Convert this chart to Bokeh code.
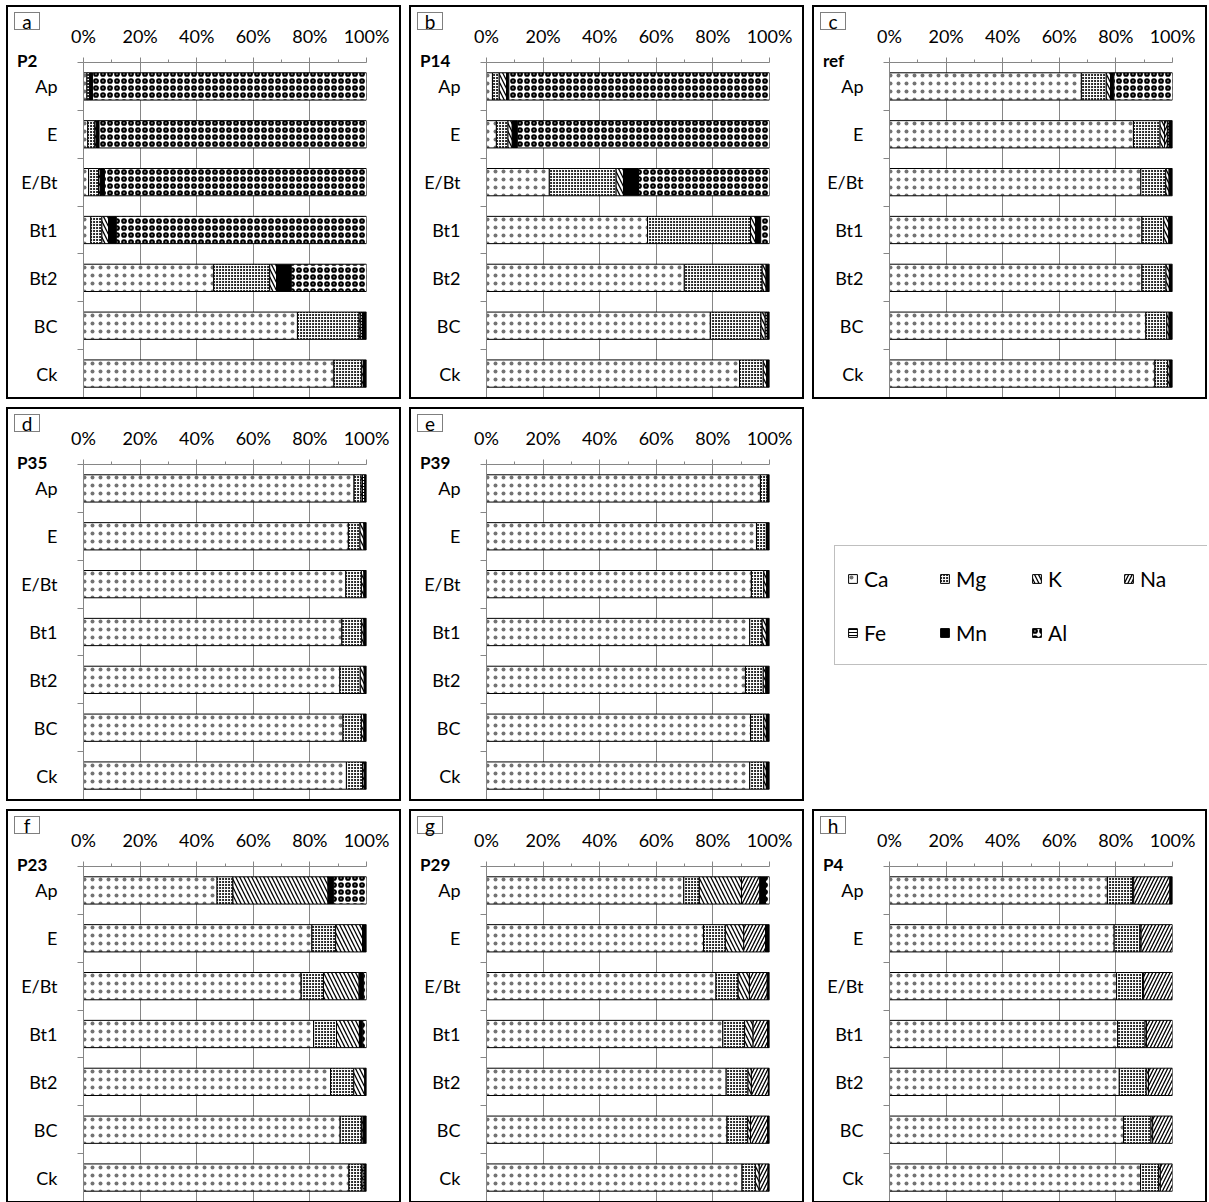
import numpy as np
from bokeh.plotting import figure
from bokeh.models import (Range1d, FixedTicker, Legend, LegendItem,
                          ColumnDataSource, GridBox, Div)
from bokeh.layouts import row, column
from bokeh.embed import file_html
from bokeh.resources import INLINE

# ---------------------------------------------------------------- data
HORIZONS = ["Ap", "E", "E/Bt", "Bt1", "Bt2", "BC", "Ck"]
ELEMENTS = ["Ca", "Mg", "K", "Na", "Fe", "Mn", "Al"]
PCT_TICKS = [0, 20, 40, 60, 80, 100]
PCT_LABELS = ["0%", "20%", "40%", "60%", "80%", "100%"]

# share of each exchangeable cation (%), listed Ap ... Ck
P2 = dict(
    Ca=[1.2, 1.5, 1.8, 2.6, 46.0, 75.6, 88.5],
    Mg=[1.0, 2.5, 3.5, 3.9, 19.8, 21.8, 9.8],
    K=[0.0, 0.5, 0.6, 2.4, 2.4, 0.6, 0.6],
    Na=[0.0, 0.0, 0.0, 0.0, 0.0, 0.0, 0.0],
    Fe=[0.0, 0.0, 0.0, 0.0, 0.0, 0.6, 0.0],
    Mn=[1.0, 1.0, 1.5, 2.7, 5.2, 1.4, 1.1],
    Al=[96.8, 94.5, 92.6, 88.4, 26.6, 0.0, 0.0],
)
P14 = dict(
    Ca=[2.1, 3.5, 22.2, 56.9, 69.9, 79.1, 89.4],
    Mg=[2.4, 4.1, 23.6, 36.4, 27.5, 17.9, 8.4],
    K=[2.6, 1.5, 2.6, 1.8, 1.4, 1.5, 1.2],
    Na=[0.0, 0.0, 0.0, 0.0, 0.0, 0.0, 0.0],
    Fe=[0.0, 0.0, 0.0, 0.0, 0.0, 0.7, 0.0],
    Mn=[0.8, 1.8, 5.3, 1.8, 1.2, 0.8, 1.0],
    Al=[92.1, 89.1, 46.3, 3.1, 0.0, 0.0, 0.0],
)
REF = dict(
    Ca=[67.8, 86.2, 88.8, 89.2, 89.2, 90.6, 93.8],
    Mg=[8.8, 9.4, 8.8, 7.7, 8.5, 7.4, 4.5],
    K=[1.5, 1.6, 1.2, 1.8, 1.2, 0.8, 0.8],
    Na=[0.0, 1.0, 0.0, 0.0, 0.0, 0.0, 0.0],
    Fe=[0.0, 0.6, 0.0, 0.0, 0.0, 0.0, 0.0],
    Mn=[1.2, 1.2, 1.2, 1.3, 1.1, 1.2, 0.9],
    Al=[20.7, 0.0, 0.0, 0.0, 0.0, 0.0, 0.0],
)
P35 = dict(
    Ca=[95.6, 93.6, 92.7, 91.3, 90.6, 91.7, 92.9],
    Mg=[2.5, 4.1, 5.5, 7.0, 7.2, 6.5, 5.7],
    K=[0.5, 1.4, 0.9, 0.8, 1.4, 0.9, 0.6],
    Na=[0.0, 0.0, 0.0, 0.0, 0.0, 0.0, 0.0],
    Fe=[0.8, 0.0, 0.0, 0.0, 0.0, 0.0, 0.0],
    Mn=[0.6, 0.9, 0.9, 0.9, 0.8, 0.9, 0.8],
    Al=[0.0, 0.0, 0.0, 0.0, 0.0, 0.0, 0.0],
)
P39 = dict(
    Ca=[96.8, 95.4, 93.6, 93.0, 91.5, 93.3, 93.0],
    Mg=[2.4, 3.5, 4.4, 4.4, 6.3, 4.7, 5.0],
    K=[0.0, 0.0, 1.0, 1.5, 0.9, 0.9, 0.9],
    Na=[0.0, 0.0, 0.0, 0.0, 0.0, 0.0, 0.0],
    Fe=[0.0, 0.0, 0.0, 0.0, 0.0, 0.0, 0.0],
    Mn=[0.8, 1.1, 1.0, 1.1, 1.3, 1.1, 1.1],
    Al=[0.0, 0.0, 0.0, 0.0, 0.0, 0.0, 0.0],
)
P23 = dict(
    Ca=[47.2, 80.7, 76.9, 81.3, 87.3, 90.7, 93.8],
    Mg=[5.6, 8.4, 7.9, 8.1, 8.2, 7.5, 4.4],
    K=[33.6, 9.5, 12.6, 8.1, 3.9, 0.6, 0.6],
    Na=[0.0, 0.0, 0.0, 0.0, 0.0, 0.0, 0.0],
    Fe=[0.0, 0.0, 0.0, 0.0, 0.0, 0.0, 0.6],
    Mn=[2.0, 1.4, 1.6, 1.2, 0.6, 1.2, 0.6],
    Al=[11.6, 0.0, 1.0, 1.3, 0.0, 0.0, 0.0],
)
P29 = dict(
    Ca=[69.7, 76.7, 81.1, 83.5, 84.7, 85.0, 90.3],
    Mg=[5.5, 7.7, 7.8, 7.7, 7.7, 7.3, 4.7],
    K=[14.9, 6.5, 4.0, 3.0, 1.2, 1.0, 1.4],
    Na=[6.5, 7.7, 6.3, 5.1, 6.0, 6.0, 3.1],
    Fe=[0.0, 0.0, 0.0, 0.0, 0.0, 0.0, 0.0],
    Mn=[2.0, 1.4, 0.8, 0.7, 0.4, 0.7, 0.5],
    Al=[1.4, 0.0, 0.0, 0.0, 0.0, 0.0, 0.0],
)
P4 = dict(
    Ca=[77.0, 79.4, 80.2, 80.6, 81.2, 82.7, 88.7],
    Mg=[8.9, 9.1, 9.2, 9.7, 9.5, 9.7, 6.4],
    K=[0.4, 0.4, 0.4, 0.5, 0.8, 0.6, 0.6],
    Na=[12.8, 11.1, 10.2, 9.2, 8.5, 7.0, 4.3],
    Fe=[0.0, 0.0, 0.0, 0.0, 0.0, 0.0, 0.0],
    Mn=[0.9, 0.0, 0.0, 0.0, 0.0, 0.0, 0.0],
    Al=[0.0, 0.0, 0.0, 0.0, 0.0, 0.0, 0.0],
)

PANELS = [
    ("a", "P2", P2), ("b", "P14", P14), ("c", "ref", REF),
    ("d", "P35", P35), ("e", "P39", P39),
    ("f", "P23", P23), ("g", "P29", P29), ("h", "P4", P4),
]

# ---------------------------------------------------------------- styling
FONT = "Lato"
GRAY = "#868686"

STYLE = {
    "Ca": dict(fill_color="white", hatch_pattern=".", hatch_scale=8,
               hatch_alpha=0.55, hatch_color="black"),
    "Mg": dict(fill_color="white", hatch_pattern="o", hatch_scale=3,
               hatch_weight=1, hatch_color="black"),
    "K": dict(fill_color="white", hatch_pattern="\\", hatch_scale=8,
              hatch_weight=1.3, hatch_color="black"),
    "Na": dict(fill_color="white", hatch_pattern="/", hatch_scale=7,
               hatch_weight=1.3, hatch_color="black"),
    "Fe": dict(fill_color="white", hatch_pattern="-", hatch_scale=3,
               hatch_weight=1, hatch_color="black"),
    "Mn": dict(fill_color="black"),
    "Al": dict(fill_color="white", hatch_pattern="o", hatch_scale=7,
               hatch_weight=2.2, hatch_color="black"),
}

PANEL_W, PANEL_H = 395, 394
BORDER = {"border": "2px solid black"}


def make_chart(data):
    n = len(HORIZONS)
    p = figure(width=PANEL_W, height=PANEL_H,
               x_range=Range1d(0, 100), y_range=Range1d(n, 0),
               x_axis_location="above", output_backend="svg",
               toolbar_location=None,
               min_border_left=75, min_border_right=37,
               min_border_top=55, min_border_bottom=4,
               styles=BORDER)
    p.outline_line_color = None
    p.background_fill_color = "white"
    p.border_fill_color = "white"

    centers = np.arange(n) + 0.5
    left = np.zeros(n)
    for el in ELEMENTS:
        vals = np.asarray(data[el], dtype=float)
        right = left + vals
        keep = vals > 0
        src = ColumnDataSource(dict(y=centers[keep], left=left[keep],
                                    right=right[keep]))
        p.hbar(y="y", left="left", right="right", height=0.57, source=src,
               line_color="black", line_width=1, **STYLE[el])
        left = right

    xa = p.xaxis[0]
    xa.ticker = FixedTicker(ticks=PCT_TICKS,
                            minor_ticks=[10, 30, 50, 70, 90])
    xa.major_label_overrides = dict(zip(PCT_TICKS, PCT_LABELS))
    xa.axis_line_color = GRAY
    xa.major_tick_line_color = GRAY
    xa.minor_tick_line_color = GRAY
    xa.major_tick_in = 0
    xa.major_tick_out = 5
    xa.minor_tick_in = 0
    xa.minor_tick_out = 3
    xa.major_label_standoff = 11
    xa.major_label_text_font = FONT
    xa.major_label_text_font_size = "18px"
    xa.major_label_text_color = "black"

    ya = p.yaxis[0]
    ya.ticker = FixedTicker(ticks=[float(c) for c in centers],
                            minor_ticks=list(range(n + 1)))
    ya.major_label_overrides = {float(c): h for c, h in zip(centers, HORIZONS)}
    ya.axis_line_color = GRAY
    ya.major_tick_line_color = None
    ya.major_tick_in = 0
    ya.major_tick_out = 0
    ya.minor_tick_line_color = GRAY
    ya.minor_tick_in = 0
    ya.minor_tick_out = 6
    ya.major_label_standoff = 20
    ya.major_label_text_font = FONT
    ya.major_label_text_font_size = "18px"
    ya.major_label_text_color = "black"

    p.xgrid.ticker = xa.ticker
    p.xgrid.grid_line_color = GRAY
    p.ygrid.visible = False
    return p


def make_tags(tag, name):
    """Panel letter (boxed) and profile name, laid over the chart's corner."""
    html = (
        f'<div style="position:relative;width:{PANEL_W}px;height:{PANEL_H}px;">'
        '<div style="position:absolute;left:8px;top:7px;width:26px;height:18px;'
        'border:1.5px solid #7f7f7f;background:white;color:black;'
        f'font-family:{FONT};font-size:19px;line-height:17px;text-align:center;">'
        f'{tag}</div>'
        '<div style="position:absolute;left:11px;top:46px;color:black;'
        f'font-family:{FONT};font-size:17px;font-weight:bold;line-height:20px;">'
        f'{name}</div>'
        '</div>'
    )
    return Div(text=html, width=PANEL_W, height=PANEL_H, margin=0)


def make_panel(tag, name, data):
    return GridBox(children=[(make_chart(data), 0, 0),
                             (make_tags(tag, name), 0, 0)])


def make_key():
    k = figure(width=PANEL_W, height=PANEL_H,
               x_range=Range1d(0, 1), y_range=Range1d(0, 1),
               x_axis_type=None, y_axis_type=None,
               output_backend="svg", toolbar_location=None, min_border=0)
    k.grid.visible = False
    k.outline_line_color = None
    items = []
    for el in ELEMENTS:
        # one off-range bar per element keeps a swatch for the key
        r = k.hbar(y=[-5], left=[0], right=[1], height=1,
                   line_color="black", line_width=1, **STYLE[el])
        items.append(LegendItem(label=el, renderers=[r]))
    leg = Legend(items=items, ncols=4, orientation="horizontal",
                 location=(22, 136), margin=0, padding=12, spacing=14,
                 glyph_width=11, glyph_height=11, label_standoff=6,
                 label_width=61, label_height=40,
                 label_text_font=FONT, label_text_font_size="21px",
                 label_text_color="black",
                 border_line_color="#7f7f7f", border_line_width=1.5,
                 background_fill_color="white", background_fill_alpha=1)
    k.add_layout(leg)
    return k


cells = {tag: make_panel(tag, name, data) for tag, name, data in PANELS}
key = make_key()

page = column(
    row(cells["a"], cells["b"], cells["c"], spacing=8),
    row(cells["d"], cells["e"], key, spacing=8),
    row(cells["f"], cells["g"], cells["h"], spacing=8),
    spacing=8, margin=(5, 0, 0, 6),
)

open("out.html", "w").write(file_html(page, INLINE))
